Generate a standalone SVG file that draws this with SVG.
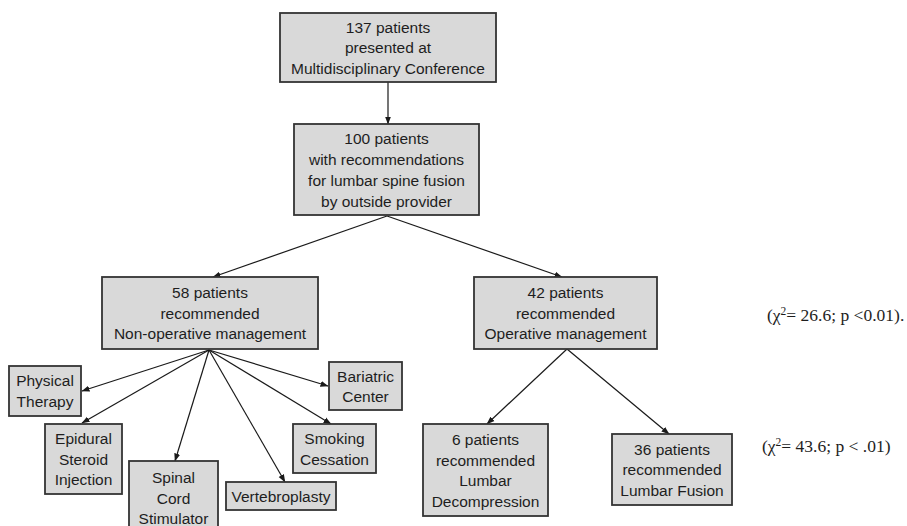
<svg xmlns="http://www.w3.org/2000/svg" width="907" height="526" viewBox="0 0 907 526">
<defs>
<marker id="ah" markerUnits="userSpaceOnUse" markerWidth="8" markerHeight="8" viewBox="0 0 8 8" refX="7.5" refY="4" orient="auto">
<path d="M0,1 L8,4 L0,7 Z" fill="#1a1a1a"/>
</marker>
</defs>
<style>
.box{fill:#d9d9d9;stroke:#333333;stroke-width:1.8}
.t{font-family:"Liberation Sans",Arial,sans-serif;font-size:15.5px;fill:#1e1e1e;text-anchor:middle}
.c{stroke:#1a1a1a;stroke-width:1.2;fill:none;marker-end:url(#ah)}
.s{font-family:"Liberation Serif","Times New Roman",serif;font-size:17.5px;fill:#1e1e1e}
</style>
<rect width="907" height="526" fill="#ffffff"/>
<g id="connectors">
<line class="c" x1="388" y1="82" x2="388" y2="124"/>
<line class="c" x1="387" y1="216" x2="213" y2="277"/>
<line class="c" x1="387" y1="216" x2="562" y2="277"/>
<line class="c" x1="209" y1="350" x2="82" y2="391"/>
<line class="c" x1="209" y1="350" x2="82" y2="423"/>
<line class="c" x1="209" y1="350" x2="175" y2="461"/>
<line class="c" x1="209" y1="350" x2="285" y2="482"/>
<line class="c" x1="209" y1="350" x2="331" y2="424"/>
<line class="c" x1="209" y1="350" x2="328" y2="386"/>
<line class="c" x1="567" y1="349" x2="487" y2="424"/>
<line class="c" x1="567" y1="349" x2="669" y2="434"/>
</g>
<g id="n137">
<rect class="box" x="280" y="13" width="216" height="69"/>
<text class="t" x="388" y="32.5">137 patients</text>
<text class="t" x="388" y="53">presented at</text>
<text class="t" x="388" y="73.5">Multidisciplinary Conference</text>
</g>
<g id="n100">
<rect class="box" x="294" y="124" width="185" height="91"/>
<text class="t" x="386.5" y="143.5">100 patients</text>
<text class="t" x="386.5" y="164.5">with recommendations</text>
<text class="t" x="386.5" y="185.5">for lumbar spine fusion</text>
<text class="t" x="386.5" y="206.5">by outside provider</text>
</g>
<g id="n58">
<rect class="box" x="102" y="277" width="216" height="72"/>
<text class="t" x="210" y="298">58 patients</text>
<text class="t" x="210" y="318.5">recommended</text>
<text class="t" x="210" y="339">Non-operative management</text>
</g>
<g id="n42">
<rect class="box" x="474" y="277" width="183" height="72"/>
<text class="t" x="565.5" y="298">42 patients</text>
<text class="t" x="565.5" y="318.5">recommended</text>
<text class="t" x="565.5" y="339">Operative management</text>
</g>
<g id="pt">
<rect class="box" x="9" y="366" width="72" height="50"/>
<text class="t" x="45" y="386">Physical</text>
<text class="t" x="45" y="406.5">Therapy</text>
</g>
<g id="esi">
<rect class="box" x="45" y="424" width="77" height="70"/>
<text class="t" x="83.5" y="444">Epidural</text>
<text class="t" x="83.5" y="464.5">Steroid</text>
<text class="t" x="83.5" y="485">Injection</text>
</g>
<g id="scs">
<rect class="box" x="129" y="461" width="89" height="70"/>
<text class="t" x="173.5" y="482.5">Spinal</text>
<text class="t" x="173.5" y="503.5">Cord</text>
<text class="t" x="173.5" y="523.5">Stimulator</text>
</g>
<g id="vp">
<rect class="box" x="226" y="482" width="110" height="28"/>
<text class="t" x="281" y="501.5">Vertebroplasty</text>
</g>
<g id="sc">
<rect class="box" x="293" y="424" width="83" height="49"/>
<text class="t" x="334.5" y="443.5">Smoking</text>
<text class="t" x="334.5" y="464.5">Cessation</text>
</g>
<g id="bc">
<rect class="box" x="329" y="362" width="73" height="48"/>
<text class="t" x="365.5" y="381.5">Bariatric</text>
<text class="t" x="365.5" y="402">Center</text>
</g>
<g id="n6">
<rect class="box" x="423" y="424" width="125" height="92"/>
<text class="t" x="485.5" y="444.5">6 patients</text>
<text class="t" x="485.5" y="465.5">recommended</text>
<text class="t" x="485.5" y="486">Lumbar</text>
<text class="t" x="485.5" y="506.5">Decompression</text>
</g>
<g id="n36">
<rect class="box" x="612" y="434" width="120" height="71"/>
<text class="t" x="672" y="454.5">36 patients</text>
<text class="t" x="672" y="475">recommended</text>
<text class="t" x="672" y="495.5">Lumbar Fusion</text>
</g>
<text class="s" x="767" y="321">(χ<tspan font-size="11.5" dy="-6">2</tspan><tspan dy="6">= 26.6; p &lt;0.01).</tspan></text>
<text class="s" x="762" y="452">(χ<tspan font-size="11.5" dy="-6">2</tspan><tspan dy="6">= 43.6; p &lt; .01)</tspan></text>
</svg>
